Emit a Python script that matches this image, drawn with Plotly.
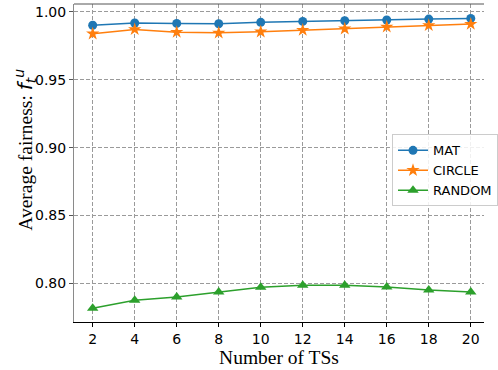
import plotly.graph_objects as go

# Number of TSs on the x axis
num_ts = [2, 4, 6, 8, 10, 12, 14, 16, 18, 20]

# Average fairness per method
mat = [0.9901, 0.9917, 0.9914, 0.9912, 0.9922, 0.9929, 0.9934, 0.9939, 0.9946, 0.9951]
circle = [0.9838, 0.9870, 0.9850, 0.9845, 0.9853, 0.9865, 0.9875, 0.9889, 0.9900, 0.9909]
random_ = [0.7818, 0.7877, 0.7901, 0.7938, 0.7973, 0.7987, 0.7987, 0.7975, 0.7953, 0.7938]

y_ticks = [0.80, 0.85, 0.90, 0.95, 1.00]

BLUE, ORANGE, GREEN = "#1f77b4", "#ff7f0e", "#2ca02c"
SANS = "DejaVu Sans"
SERIF = "Liberation Serif"

fig = go.Figure()
fig.add_trace(go.Scatter(
    x=num_ts, y=mat, name="MAT", mode="lines+markers",
    line=dict(color=BLUE, width=1.5),
    marker=dict(symbol="circle", size=9, color=BLUE)))
fig.add_trace(go.Scatter(
    x=num_ts, y=circle, name="CIRCLE", mode="lines+markers",
    line=dict(color=ORANGE, width=1.5),
    marker=dict(symbol="star", size=10, color=ORANGE)))
fig.add_trace(go.Scatter(
    x=num_ts, y=random_, name="RANDOM", mode="lines+markers",
    line=dict(color=GREEN, width=1.5),
    marker=dict(symbol="triangle-up", size=10, color=GREEN)))

grid = dict(showgrid=True, gridcolor="#9a9a9a", gridwidth=1, griddash="4px,2px")

fig.update_layout(
    width=498, height=370,
    margin=dict(l=74, r=0, t=4, b=48),
    plot_bgcolor="white", paper_bgcolor="white",
    font=dict(family=SANS, size=14, color="black"),
    xaxis=dict(
        range=[1.11, 20.63], tickvals=num_ts, ticktext=[str(v) for v in num_ts],
        ticks="outside", ticklen=4, tickcolor="black", tickwidth=1,
        showline=True, linecolor="black", linewidth=1, zeroline=False,
        tickfont=dict(family=SANS, size=14),
        title=dict(text="Number of TSs", font=dict(family=SERIF, size=19.5), standoff=4),
        **grid),
    yaxis=dict(
        range=[0.7717, 1.0057], tickvals=y_ticks,
        ticktext=[f"{v:.2f}" for v in y_ticks],
        ticks="outside", ticklen=4, tickcolor="#555555", tickwidth=1,
        showline=True, linecolor="#8a8a8a", linewidth=1, zeroline=False,
        tickfont=dict(family=SANS, size=14),
        **grid),
    legend=dict(
        x=0.776, y=0.59, xanchor="left", yanchor="top",
        bgcolor="rgba(255,255,255,0.85)", bordercolor="#cccccc", borderwidth=1,
        itemwidth=30,
        font=dict(family=SANS, size=13, color="black")),
    showlegend=True,
)

# top spine
fig.add_shape(type="line", xref="paper", yref="paper", x0=0, x1=1, y0=1, y1=1,
              line=dict(color="#555555", width=1))

# y-axis title with the fairness symbol
fig.add_annotation(
    xref="paper", yref="paper", x=(23 - 74) / 424, y=(322 - 150) / 318,
    xanchor="center", yanchor="middle", textangle=-90, showarrow=False,
    text=("Average fairness: <span style='font-family:DejaVu Sans;font-size:20px'>"
          "<i>f</i><sub><i>t</i></sub><sup><i>u</i></sup></span>"),
    font=dict(family=SERIF, size=19.5, color="black"))

fig.write_html("out.html")
